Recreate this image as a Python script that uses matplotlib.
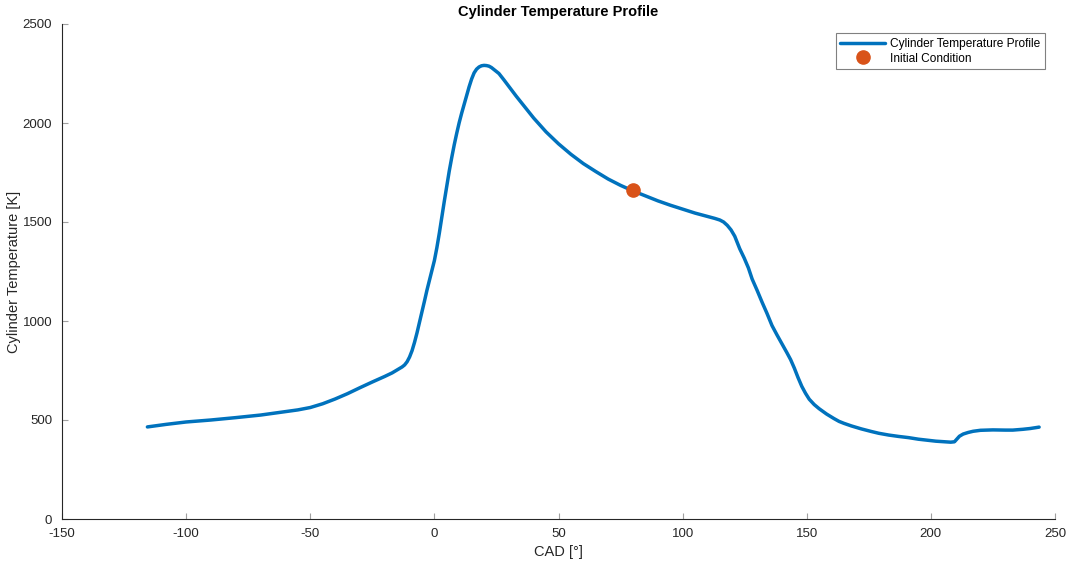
import matplotlib
matplotlib.use("Agg")
import matplotlib.pyplot as plt

plt.rcParams['font.family'] = ['Liberation Sans', 'DejaVu Sans']
plt.rcParams['axes.unicode_minus'] = False

# Crank angle [deg] and in-cylinder temperature [K]
cad = [-115.6, -108, -100, -90, -80, -70, -60, -55, -50, -45, -40, -35, -30,
       -25, -20, -17, -15, -13, -12, -11, -10, -9, -8, -7, -6, -5, -4, -3, -2,
       -1, 0, 1, 2, 3, 4, 5, 6, 7, 8, 9, 10, 11, 12, 13, 14, 15, 16, 17, 18,
       19, 20, 21, 22, 23, 24, 25, 26, 28, 30, 33, 36, 40, 45, 50, 55, 60, 65,
       70, 75, 80, 85, 90, 95, 100, 105, 110, 113, 115, 116.5, 118, 119.5, 121,
       123, 124.8, 126.5, 128, 130, 132, 134, 136, 138, 140, 142, 143.5, 145,
       146.5, 148, 149.5, 151, 153, 155, 158, 161, 163, 165, 168, 172, 176,
       179, 183, 187, 191, 195, 202, 206, 208, 209.5, 210.5, 211.5, 213, 215,
       217, 220, 225, 230, 233, 237, 240, 243.6]
temp = [465, 478, 490, 500, 512, 525, 542, 551, 563, 582, 606, 633, 663,
        692, 720, 738, 753, 768, 778, 794, 818, 850, 892, 940, 993, 1045, 1100,
        1155, 1205, 1255, 1305, 1370, 1444, 1525, 1605, 1682, 1758, 1826, 1890,
        1948, 2002, 2050, 2095, 2140, 2183, 2222, 2253, 2272, 2283, 2289, 2291,
        2290, 2287, 2280, 2270, 2260, 2250, 2218, 2185, 2135, 2088, 2025, 1955,
        1895, 1842, 1795, 1755, 1717, 1685, 1657, 1632, 1607, 1585, 1565, 1545,
        1528, 1518, 1510, 1500, 1483, 1460, 1428, 1365, 1318, 1268, 1212, 1155,
        1095, 1038, 977, 930, 885, 840, 805, 762, 714, 670, 635, 605, 578, 557,
        530, 507, 493, 483, 470, 455, 442, 433, 424, 417, 411, 403, 393, 390,
        388, 390, 404, 418, 429, 437, 443, 448, 450, 449, 449, 453, 457, 464]

# Initial condition
ic_cad = [80]
ic_temp = [1660]

x_ticks = [-150, -100, -50, 0, 50, 100, 150, 200, 250]
y_ticks = [0, 500, 1000, 1500, 2000, 2500]

axis_col = '#262626'

fig = plt.figure(figsize=(10.7, 5.66), dpi=100)
ax = fig.add_axes([62 / 1070, 47 / 566, 993 / 1070, 495 / 566])

ax.plot(cad, temp, color='#0072BD', linewidth=2.5, label='Cylinder Temperature Profile',
        solid_capstyle='round', solid_joinstyle='round')
ax.plot(ic_cad, ic_temp, 'o', color='#D95319', markersize=9.5, label='Initial Condition',
        zorder=3)

ax.set_xlim(-150, 250)
ax.set_ylim(0, 2500)
ax.set_xticks(x_ticks)
ax.set_yticks(y_ticks)
ax.tick_params(direction='in', length=4, width=0.8, colors='#a0a0a0',
               labelcolor=axis_col, labelsize=9.5)
ax.tick_params(axis='y', pad=7)
ax.tick_params(axis='x', pad=6.5)

for side in ('top', 'right'):
    ax.spines[side].set_visible(False)
for side in ('left', 'bottom'):
    ax.spines[side].set_color(axis_col)
    ax.spines[side].set_linewidth(0.8)

ax.set_xlabel('CAD [°]', fontsize=10.5, color=axis_col, labelpad=3.5)
ax.set_ylabel('Cylinder Temperature [K]', fontsize=10.5, color=axis_col, labelpad=1)
ax.set_title('Cylinder Temperature Profile', fontsize=10.5, fontweight='bold', pad=6)

leg = ax.legend(loc='upper right', bbox_to_anchor=(0.990, 0.982), fontsize=8.6,
                frameon=True, fancybox=False, edgecolor='#808080', framealpha=1,
                handlelength=3.7, handletextpad=0.45, borderpad=0.4, labelspacing=0.25,
                borderaxespad=0.0)
leg.get_frame().set_linewidth(0.8)

fig.savefig('out.png', dpi=100, facecolor='white')
